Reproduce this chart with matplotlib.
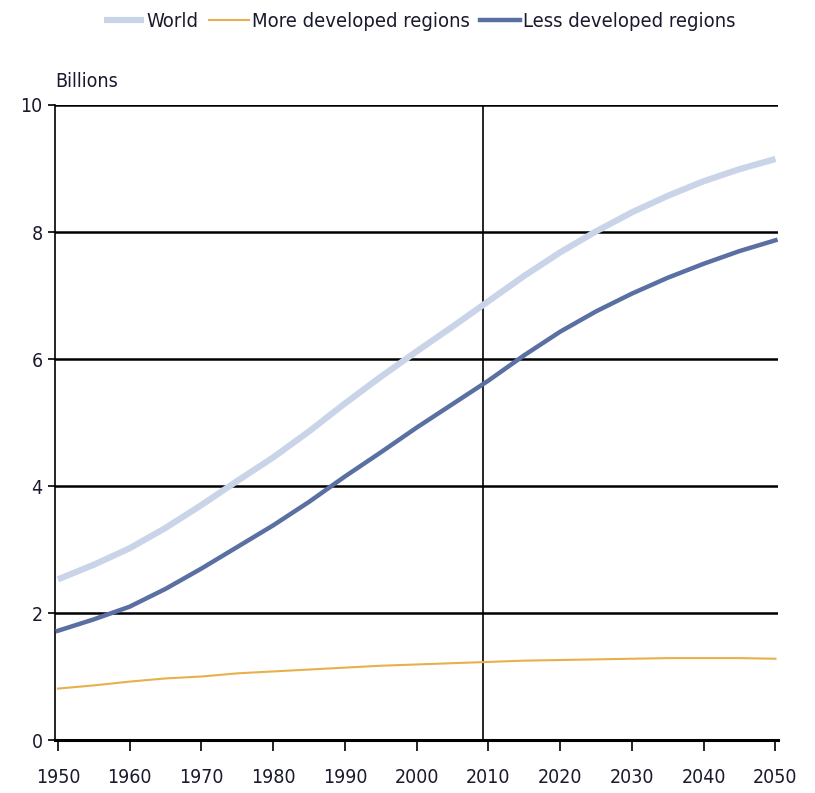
import matplotlib
matplotlib.use("Agg")
import matplotlib.pyplot as plt

years = [1950, 1955, 1960, 1965, 1970, 1975, 1980, 1985, 1990, 1995, 2000,
         2005, 2010, 2015, 2020, 2025, 2030, 2035, 2040, 2045, 2050]
world = [2.53, 2.76, 3.02, 3.34, 3.70, 4.08, 4.45, 4.86, 5.30, 5.72, 6.12,
         6.51, 6.91, 7.31, 7.68, 8.01, 8.31, 8.57, 8.80, 8.99, 9.15]
more_dev = [0.81, 0.86, 0.92, 0.97, 1.00, 1.05, 1.08, 1.11, 1.14, 1.17, 1.19,
            1.21, 1.23, 1.25, 1.26, 1.27, 1.28, 1.29, 1.29, 1.29, 1.28]
less_dev = [1.72, 1.90, 2.10, 2.38, 2.70, 3.04, 3.38, 3.75, 4.15, 4.53, 4.92,
            5.29, 5.66, 6.06, 6.43, 6.75, 7.03, 7.28, 7.50, 7.70, 7.87]
xticks = list(range(1950, 2051, 10))
yticks = [0, 2, 4, 6, 8, 10]

plt.rcParams['font.family'] = ['DejaVu Sans', 'Liberation Sans']
plt.rcParams['font.stretch'] = 'condensed'
plt.rcParams['text.color'] = '#1a1a2e'

fig = plt.figure(figsize=(8.15, 7.93), dpi=100)
ax = fig.add_axes([0.0675, 0.0668, 0.8875, 0.8008])

for y in yticks[1:]:
    ax.axhline(y, color='black', lw=1.8, zorder=1)
ax.axvline(2009.3, color='black', lw=1.2, zorder=1)

ax.plot(years, world, color='#cad4e8', lw=4.5, label='World', solid_capstyle='butt', zorder=3)
ax.plot(years, more_dev, color='#e7b04c', lw=1.5, label='More developed regions', zorder=3)
ax.plot(years, less_dev, color='#5a6fa2', lw=3.2, label='Less developed regions', zorder=3)

ax.set_xlim(1949.6, 2050.4)
ax.set_ylim(0, 10)
ax.set_xticks(xticks)
ax.set_yticks(yticks)
ax.tick_params(axis='x', direction='out', length=8, width=1.2, labelsize=14, pad=12,
               labelcolor='#1a1a2e')
ax.tick_params(axis='y', direction='out', length=5, width=1.2, labelsize=14, pad=4,
               labelcolor='#1a1a2e')
for s in ['top', 'right']:
    ax.spines[s].set_visible(False)
ax.spines['left'].set_linewidth(1.2)
ax.spines['bottom'].set_linewidth(2.2)

fig.text(0.068, 0.885, 'Billions', fontsize=14, ha='left', va='bottom')

fig.legend(loc='upper center', bbox_to_anchor=(0.515, 1.008), ncol=3, frameon=False,
           fontsize=14.5, handlelength=2.0, handletextpad=0.15, columnspacing=0.5)

fig.savefig('out.png', dpi=100)
